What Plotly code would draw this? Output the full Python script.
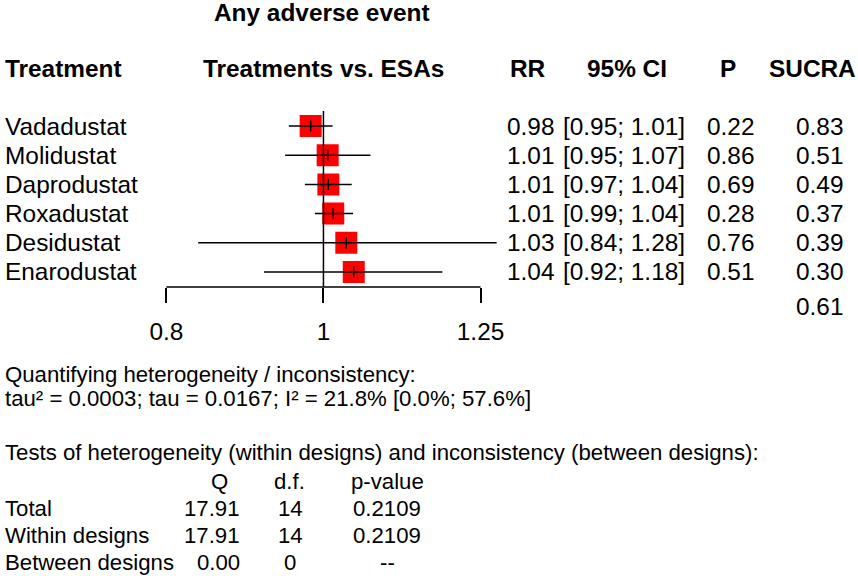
import plotly.graph_objects as go

# Forest plot data (RR vs. ESAs)
treatments = ["Vadadustat", "Molidustat", "Daprodustat", "Roxadustat", "Desidustat", "Enarodustat"]
rr = [0.982, 1.006, 1.007, 1.014, 1.033, 1.044]
ci_low = [0.952, 0.947, 0.974, 0.988, 0.837, 0.919]
ci_high = [1.013, 1.069, 1.041, 1.043, 1.279, 1.184]
p_values = ["0.22", "0.86", "0.69", "0.28", "0.76", "0.51"]
sucra = ["0.83", "0.51", "0.49", "0.37", "0.39", "0.30"]
sucra_ref = "0.61"
ref_value = 1
tick_vals = [0.8, 1, 1.25]
tick_text = ["0.8", "1", "1.25"]

# heterogeneity / inconsistency summary
het_lines = [
    "Quantifying heterogeneity / inconsistency:",
    "tau² = 0.0003; tau = 0.0167; I² = 21.8% [0.0%; 57.6%]",
]
tests_title = "Tests of heterogeneity (within designs) and inconsistency (between designs):"
test_rows = ["Total", "Within designs", "Between designs"]
test_q = ["17.91", "17.91", "0.00"]
test_df = ["14", "14", "0"]
test_p = ["0.2109", "0.2109", "--"]

W, H = 858, 576
FONT = "Liberation Sans, Arial, sans-serif"
TOP_SIZE = 24.4
BOT_SIZE = 22.2
LEFT = 1  # left edge for left-aligned text (annotation padding adds a few px)


def px(x):
    return x / W


def py(y):
    return 1 - y / H


fig = go.Figure()

# boxes
fig.add_trace(go.Scatter(
    x=rr, y=treatments, mode="markers",
    marker=dict(symbol="square", size=22, color="#ff0000", line=dict(width=0)),
    hoverinfo="skip",
))

# confidence intervals drawn on top of the boxes
for t, lo, hi in zip(treatments, ci_low, ci_high):
    fig.add_trace(go.Scatter(
        x=[lo, hi], y=[t, t], mode="lines",
        line=dict(color="black", width=1.5), hoverinfo="skip",
    ))

# point estimate tick
fig.add_trace(go.Scatter(
    x=rr, y=treatments, mode="markers",
    marker=dict(symbol="line-ns-open", size=8, color="black",
                line=dict(color="black", width=1.5)),
    hoverinfo="skip",
))

# reference line and axis line
fig.add_shape(type="line", xref="x", yref="y domain", x0=ref_value, x1=ref_value,
              y0=0, y1=1, line=dict(color="black", width=1.5))
fig.add_shape(type="line", xref="x", yref="y domain", x0=tick_vals[0], x1=tick_vals[-1],
              y0=0, y1=0, line=dict(color="black", width=1.5))

ann = []


def txt(x, y, s, anchor="left", size=TOP_SIZE, bold=False, yref="paper"):
    ann.append(dict(
        x=x, y=y, xref="paper", yref=yref, text=f"<b>{s}</b>" if bold else s,
        xanchor=anchor, yanchor="middle", showarrow=False,
        font=dict(family=FONT, size=size, color="black"),
    ))


# titles and headers
txt(px(320.5), py(12), "Any adverse event", "center", bold=True)
txt(px(LEFT), py(69), "Treatment", "left", bold=True)
txt(px(322), py(69), "Treatments vs. ESAs", "center", bold=True)
txt(px(527), py(69), "RR", "center", bold=True)
txt(px(626.5), py(69), "95% CI", "center", bold=True)
txt(px(727.5), py(69), "P", "center", bold=True)
txt(px(812.5), py(69), "SUCRA", "center", bold=True)

# per-treatment columns
for i, t in enumerate(treatments):
    txt(px(LEFT), t, t, "left", yref="y")
    txt(px(529.5), t, f"{rr[i]:.2f}", "center", yref="y")
    txt(px(623), t, f"[{ci_low[i]:.2f}; {ci_high[i]:.2f}]", "center", yref="y")
    txt(px(730), t, p_values[i], "center", yref="y")
    txt(px(819.5), t, sucra[i], "center", yref="y")
txt(px(819.5), py(306), sucra_ref, "center")

# heterogeneity block
txt(px(LEFT), py(374), het_lines[0], "left", size=BOT_SIZE)
txt(px(LEFT), py(398), het_lines[1], "left", size=BOT_SIZE)
txt(px(LEFT), py(452.5), tests_title, "left", size=BOT_SIZE)
txt(px(218), py(481), "Q", "center", size=BOT_SIZE)
txt(px(288), py(481), "d.f.", "center", size=BOT_SIZE)
txt(px(386), py(481), "p-value", "center", size=BOT_SIZE)
for j, row in enumerate(test_rows):
    yy = py(508 + 27 * j)
    txt(px(LEFT), yy, row, "left", size=BOT_SIZE)
    txt(px(241), yy, test_q[j], "right", size=BOT_SIZE)
    txt(px(289), yy, test_df[j], "center", size=BOT_SIZE)
    txt(px(386), yy, test_p[j], "center", size=BOT_SIZE)

fig.update_layout(
    width=W, height=H,
    margin=dict(l=0, r=0, t=0, b=0),
    paper_bgcolor="white", plot_bgcolor="white",
    showlegend=False,
    annotations=ann,
    font=dict(family=FONT, size=TOP_SIZE, color="black"),
    xaxis=dict(
        type="log", domain=[px(150), px(510)], range=[-0.10600, 0.11560],
        tickvals=tick_vals, ticktext=tick_text, ticks="outside", ticklen=15,
        tickwidth=1.5, tickcolor="black", ticklabelstandoff=8,
        showgrid=False, zeroline=False, showline=False,
        tickfont=dict(family=FONT, size=TOP_SIZE, color="black"),
    ),
    yaxis=dict(
        type="category", categoryarray=treatments, range=[5.514, -0.514],
        domain=[py(287), py(111)], showticklabels=False, showgrid=False,
        zeroline=False, showline=False, ticks="",
    ),
)

# drop the default page margin so the figure sits at the window's corner
fig.write_html("out.html", config={"displayModeBar": False},
               post_script="document.body.style.margin='0px';")
